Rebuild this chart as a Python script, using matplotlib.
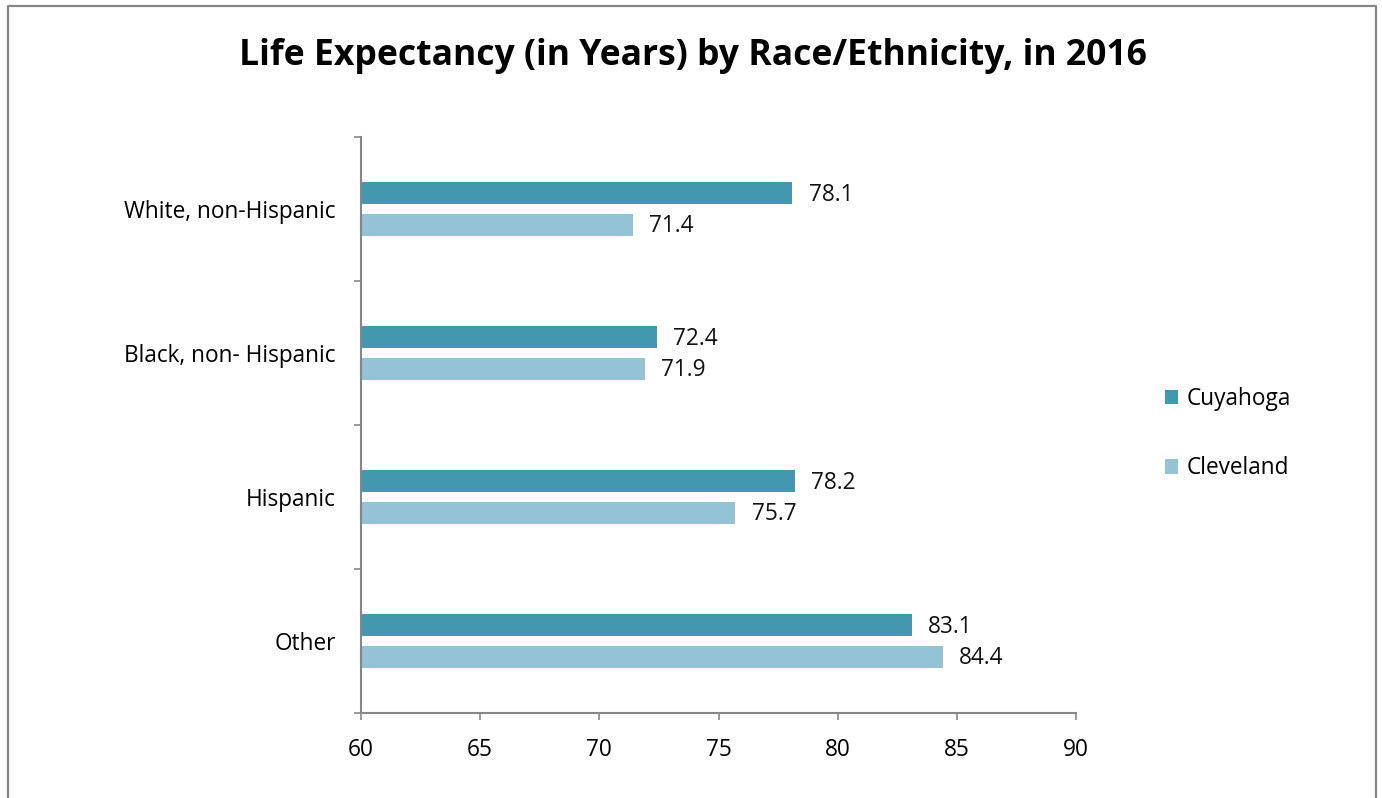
import matplotlib.pyplot as plt
import numpy as np
from matplotlib.lines import Line2D

categories = ['White, non-Hispanic', 'Black, non- Hispanic', 'Hispanic', 'Other']
cuyahoga = [78.1, 72.4, 78.2, 83.1]
cleveland = [71.4, 71.9, 75.7, 84.4]
series_names = ['Cuyahoga', 'Cleveland']
colors = ['#4398B0', '#93C3D5']

plt.rcParams['font.family'] = ['Open Sans', 'DejaVu Sans']
fs = 16.3

fig = plt.figure(figsize=(13.82, 7.98), dpi=100)
ax = fig.add_axes([0.2612, 0.1065, 0.5174, 0.7218])

y = np.arange(len(categories))
h = 0.157
off = 0.11
bars1 = ax.barh(y - off, [v - 60 for v in cuyahoga], left=60, height=h,
                color=colors[0], label=series_names[0])
bars2 = ax.barh(y + off, [v - 60 for v in cleveland], left=60, height=h,
                color=colors[1], label=series_names[1])

for vals, pos in ((cuyahoga, y - off), (cleveland, y + off)):
    for v, p in zip(vals, pos):
        ax.annotate(f'{v:.1f}', (v, p), xytext=(12, -1), textcoords='offset points',
                    va='center', ha='left', fontsize=fs, color='#111111')

ax.set_xlim(60, 90)
ax.set_ylim(3.5, -0.5)
ax.set_xticks(range(60, 91, 5))
ax.set_yticks(np.arange(-0.5, 4.0, 1.0), minor=False)
ax.set_yticklabels([])
ax.set_yticks(y, minor=True)
ax.set_yticklabels(categories, minor=True)
ax.tick_params(axis='y', which='minor', length=0, pad=18, labelsize=fs)
ax.tick_params(axis='y', which='major', length=5, width=1.2, color='#868686')
ax.tick_params(axis='x', length=5, width=1.2, color='#868686', pad=13, labelsize=fs)

for s in ('top', 'right'):
    ax.spines[s].set_visible(False)
for s in ('left', 'bottom'):
    ax.spines[s].set_color('#868686')
    ax.spines[s].set_linewidth(1.5)

fig.legend(handles=[bars1, bars2], labels=series_names, loc='upper left',
           bbox_to_anchor=(0.835, 0.529), frameon=False, fontsize=fs,
           handlelength=0.58, handleheight=0.58, handletextpad=0.35,
           labelspacing=2.0, borderpad=0)

fig.text(0.5015, 0.93, 'Life Expectancy (in Years) by Race/Ethnicity, in 2016',
         ha='center', va='center', fontsize=25.6, fontweight='bold')

# outer chart border (open at the bottom edge)
bx0, bx1, by1 = 7.5 / 1382, 1375.5 / 1382, 1 - 5.5 / 798
fig.add_artist(Line2D([bx0, bx0, bx1, bx1], [0, by1, by1, 0],
                      transform=fig.transFigure, color='#868686', lw=1.6))

fig.savefig('out.png', dpi=100)
